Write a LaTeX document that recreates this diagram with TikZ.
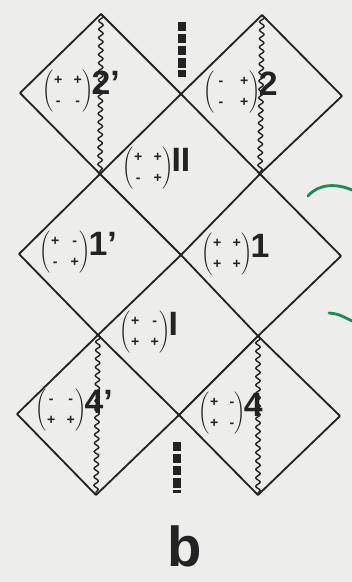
\documentclass[tikz,border=0pt]{standalone}
\usepackage{amsmath,amssymb}
\usepackage{xcolor}
\usepackage{fontspec}
\setsansfont{Liberation Sans}
\usepackage{tikz}
\usetikzlibrary{arrows.meta,positioning,calc,decorations.pathmorphing}

\definecolor{paper}{RGB}{237,237,235}
\definecolor{ink}{RGB}{35,35,35}
\definecolor{pen}{RGB}{25,140,85}

\newcommand{\sgsz}{\fontsize{10}{12}\selectfont\sffamily\bfseries}
\newcommand{\signs}[4]{$\left(\renewcommand{\arraystretch}{1.2}\begin{array}{@{\hspace{0.5pt}}c@{\hspace{8pt}}c@{\hspace{0.5pt}}}\mbox{\sgsz #1}&\mbox{\sgsz #2}\\\mbox{\sgsz #3}&\mbox{\sgsz #4}\end{array}\right)$}
\newcommand{\widesigns}[4]{$\left(\renewcommand{\arraystretch}{1.2}\begin{array}{@{\hspace{3pt}}c@{\hspace{12pt}}c@{\hspace{1pt}}}\mbox{\sgsz #1}&\mbox{\sgsz #2}\\\mbox{\sgsz #3}&\mbox{\sgsz #4}\end{array}\right)$}
\newcommand{\num}[1]{\hspace{-1.5pt}{\fontsize{24}{24}\selectfont\sffamily\bfseries #1}}

\begin{document}
\begin{tikzpicture}[x=0.025cm,y=-0.025cm]
\tikzstyle{ln}=[ink,line width=1.3pt]
\tikzstyle{wv}=[ink,line width=1pt,decorate,decoration={snake,segment length=6,amplitude=1.6}]
\tikzstyle{lab}=[anchor=west,inner sep=0pt,text=ink]
\tikzstyle{bar}=[ink,line width=5.6pt,dash pattern=on 6.6pt off 2pt]
\fill[paper] (0,0) rectangle (352,582);
\useasboundingbox (0,0) rectangle (352,582);
% corners of the lattice
\coordinate (l1) at (20,93);
\coordinate (t1) at (101,14);
\coordinate (c1) at (181,94);
\coordinate (t2) at (262,15);
\coordinate (r1) at (342,96);
\coordinate (b1) at (100,174);
\coordinate (b2) at (260,174);
\coordinate (l2) at (19,254);
\coordinate (c2) at (181,255);
\coordinate (r2) at (341,256);
\coordinate (b3) at (98,335);
\coordinate (b4) at (258,336);
\coordinate (l3) at (17,414);
\coordinate (c3) at (179,415);
\coordinate (r3) at (340,416);
\coordinate (b5) at (96,495);
\coordinate (b6) at (258,495);
% falling edges
\draw[ln] (t1) -- (c1) -- (b2) -- (r2);
\draw[ln] (l1) -- (b1) -- (c2) -- (b4) -- (r3);
\draw[ln] (l2) -- (b3) -- (c3) -- (b6);
\draw[ln] (t2) -- (r1);
\draw[ln] (l3) -- (b5);
% rising edges
\draw[ln] (l1) -- (t1);
\draw[ln] (l2) -- (b1) -- (c1) -- (t2);
\draw[ln] (l3) -- (b3) -- (c2) -- (b2) -- (r1);
\draw[ln] (b5) -- (c3) -- (b4) -- (r2);
\draw[ln] (b6) -- (r3);
% wavy cuts
\draw[wv] (t1) -- (b1);
\draw[wv] (t2) -- (b2);
\draw[wv] (b3) -- (b5);
\draw[wv] (b4) -- (b6);
% continuation bars
\coordinate (d1) at (182,22);
\coordinate (d2) at (182,77);
\coordinate (d3) at (177,442);
\coordinate (d4) at (177,493);
\draw[bar] (d1) -- (d2);
\draw[bar] (d3) -- (d4);
% labels
\node[lab] (n2p) at (42,91) {\signs{+}{+}{-}{-}\num{2’}};
\node[lab] (n2) at (203,92) {\widesigns{-}{+}{-}{+}\num{2}};
\node[lab] (nII) at (122,168) {\signs{+}{+}{-}{+}\num{II}};
\node[lab] (n1p) at (39,252) {\signs{+}{-}{-}{+}\num{1’}};
\node[lab] (n1) at (201,254) {\signs{+}{+}{+}{+}\num{1}};
\node[lab] (nI) at (119,332) {\signs{+}{-}{+}{+}\num{I}};
\node[lab] (n4p) at (35,410) {\signs{-}{-}{+}{+}\num{4’}};
\node[lab] (n4) at (198,413) {\signs{+}{-}{+}{-}\num{4}};
\node[text=ink] (cap) at (185,546) {\fontsize{40}{40}\selectfont\sffamily\bfseries b};
% pen marks at the margin
\draw[pen,line width=2pt,line cap=round] (308,196) .. controls (318,184) and (336,183) .. (352,190);
\draw[pen,line width=2pt,line cap=round] (329,313) .. controls (338,314) .. (352,321);
\end{tikzpicture}
\end{document}
